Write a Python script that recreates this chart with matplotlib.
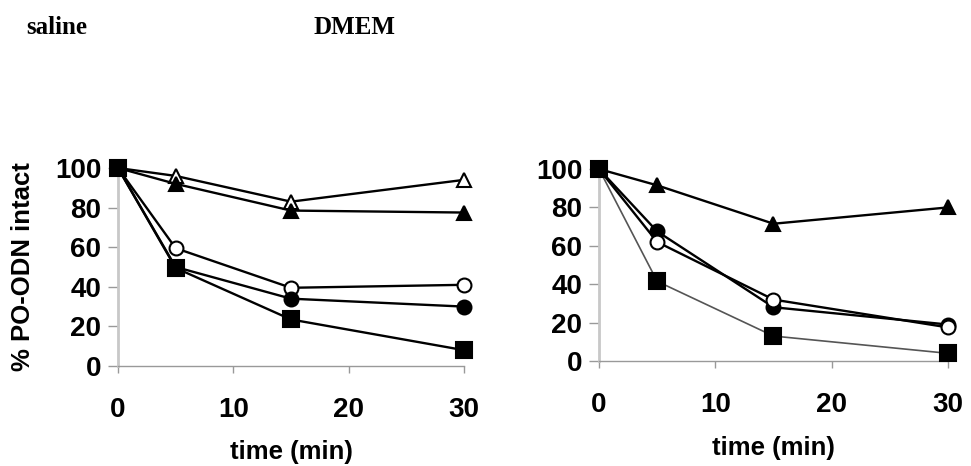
import matplotlib.pyplot as plt

plt.rcParams['font.family'] = ['Liberation Sans', 'DejaVu Sans']

time = [0, 5, 15, 30]

# saline
sal_open_tri = [100, 96, 83, 94]
sal_tri = [100, 92, 78.5, 77.5]
sal_open_circ = [100, 59.5, 39.5, 41]
sal_circ = [100, 50, 34, 30]
sal_sq = [100, 49.5, 23.5, 8]

# DMEM
dm_tri = [100, 91.5, 71.5, 80]
dm_circ = [100, 67.5, 28, 19]
dm_open_circ = [100, 62, 32, 17.5]
dm_sq = [100, 41.5, 13, 4]

fig = plt.figure(figsize=(9.71, 4.66), dpi=100)
ax1 = fig.add_axes([0.1215, 0.2146, 0.3563, 0.4249])
ax2 = fig.add_axes([0.6169, 0.2253, 0.3594, 0.412])


def series(ax, y, marker, filled=True, color='black', lw=1.7, ms=10):
    ax.plot(time, y, color=color, lw=lw, marker=marker, ms=ms,
            mfc='black' if filled else 'white', mec='black', mew=1.5,
            clip_on=False, zorder=3)


series(ax1, sal_open_tri, '^', filled=False)
series(ax1, sal_tri, '^')
series(ax1, sal_open_circ, 'o', filled=False)
series(ax1, sal_circ, 'o')
series(ax1, sal_sq, 's', ms=11)

series(ax2, dm_tri, '^')
series(ax2, dm_circ, 'o')
series(ax2, dm_open_circ, 'o', filled=False)
series(ax2, dm_sq, 's', color='#555555', lw=1.2, ms=11)

for ax in (ax1, ax2):
    ax.set_xlim(0, 30)
    ax.set_ylim(0, 100)
    ax.set_xticks([0, 10, 20, 30])
    ax.set_yticks([0, 20, 40, 60, 80, 100])
    for s in ('top', 'right'):
        ax.spines[s].set_visible(False)
    ax.spines['left'].set_color('#c8c8c8')
    ax.spines['left'].set_linewidth(2)
    ax.spines['bottom'].set_color('#999999')
    ax.spines['bottom'].set_linewidth(1)
    ax.tick_params(axis='x', length=5, width=1, color='#999999', pad=17,
                   labelsize=20)
    ax.tick_params(axis='y', length=7, width=1, color='#999999', pad=5,
                   labelsize=20)
    for lab in ax.get_xticklabels() + ax.get_yticklabels():
        lab.set_fontweight('bold')
    ax.set_xlabel('time (min)', fontsize=18.5, fontweight='bold', va='center')

ax1.xaxis.set_label_coords(0.5, -0.434)
ax2.xaxis.set_label_coords(0.5, -0.453)
ax1.set_ylabel('% PO-ODN intact', fontsize=18.5, fontweight='bold', va='center')
ax1.yaxis.set_label_coords(-0.275, 0.5)

fig.text(26 / 971, 1 - 27 / 466, 'saline', family='Liberation Serif',
         fontsize=18, fontweight='bold', va='center', ha='left')
fig.text(313 / 971, 1 - 27 / 466, 'DMEM', family='Liberation Serif',
         fontsize=18, fontweight='bold', va='center', ha='left')

fig.savefig('out.png', dpi=100)
